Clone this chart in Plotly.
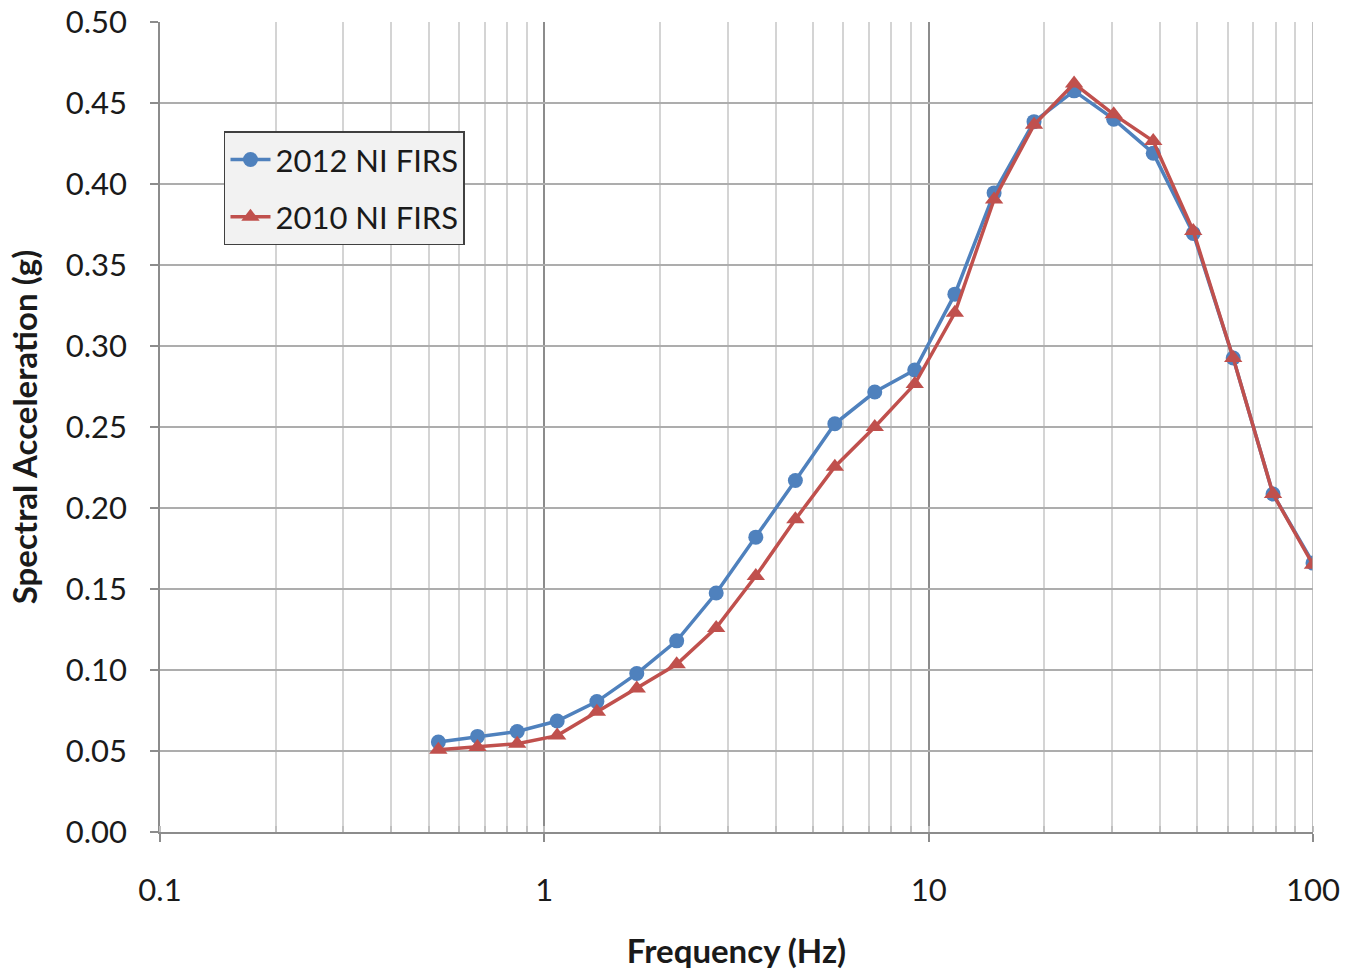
import plotly.graph_objects as go

freq = [0.53, 0.67, 0.85, 1.08, 1.37, 1.74, 2.21, 2.8, 3.55, 4.5, 5.7, 7.24,
        9.2, 11.7, 14.8, 18.8, 23.9, 30.3, 38.4, 48.8, 62, 78.7, 100]
sa_2012 = [0.0556, 0.0590, 0.0620, 0.0685, 0.0805, 0.0978, 0.118, 0.1475, 0.182,
           0.217, 0.252, 0.2716, 0.2852, 0.332, 0.3945, 0.4385, 0.4575, 0.440,
           0.419, 0.3695, 0.2926, 0.2086, 0.166]
sa_2010 = [0.0508, 0.0525, 0.0545, 0.0595, 0.0742, 0.0886, 0.1035, 0.126, 0.158,
           0.193, 0.2255, 0.250, 0.2765, 0.3205, 0.3905, 0.4365, 0.4620, 0.443,
           0.4265, 0.371, 0.2926, 0.2086, 0.165]
names = ["2012 NI FIRS", "2010 NI FIRS"]
x_ticks = [0.1, 1, 10, 100]
x_ticktext = ["0.1", "1", "10", "100"]

FONT = "Lato"
BLUE = "#4f81bd"
RED = "#c0504d"

fig = go.Figure()
fig.add_trace(go.Scatter(
    x=freq, y=sa_2012, mode="lines+markers", name=names[0], legendgroup="a",
    line=dict(color=BLUE, width=3.5),
    marker=dict(symbol="circle", size=15, color=BLUE),
))
fig.add_trace(go.Scatter(
    x=freq, y=sa_2010, mode="lines+markers", name=names[1], legendgroup="b",
    line=dict(color=RED, width=3.5),
    marker=dict(symbol="triangle-up", size=16, color=RED),
))

fig.update_layout(
    width=1345, height=970,
    margin=dict(l=160, r=32, t=22, b=138),
    paper_bgcolor="white", plot_bgcolor="white",
    font=dict(family=FONT, size=31, color="#1a1a1a"),
    showlegend=True,
    legend=dict(
        x=0.0555, y=0.865, xanchor="left", yanchor="top",
        bgcolor="#f2f2f2", bordercolor="#404040", borderwidth=1.5,
        font=dict(family=FONT, size=31, color="#1a1a1a"),
        traceorder="grouped", tracegroupgap=14, itemwidth=40,
    ),
    xaxis=dict(
        type="log", range=[-1, 2], automargin=False,
        tickmode="array", tickvals=x_ticks, ticktext=x_ticktext,
        showgrid=True, gridcolor="#8c8c8c", gridwidth=1.5,
        showline=True, linecolor="#8c8c8c", linewidth=1.5,
        ticks="outside", ticklen=8, tickcolor="#8c8c8c", tickwidth=1.5,
        ticklabelstandoff=22,
        minor=dict(dtick="D1", showgrid=True, gridcolor="#d4d4d4", gridwidth=1.5,
                   ticks="inside", ticklen=6, tickcolor="#bfbfbf"),
        title=dict(text="<b>Frequency (Hz)</b>", font=dict(family=FONT, size=33), standoff=36),
        zeroline=False, mirror=False,
    ),
    yaxis=dict(
        range=[0, 0.5], dtick=0.05, tickformat=".2f", automargin=False,
        showgrid=True, gridcolor="#adadad", gridwidth=1.5,
        showline=True, linecolor="#8c8c8c", linewidth=1.5,
        ticks="outside", ticklen=8, tickcolor="#8c8c8c", tickwidth=1.5,
        ticklabelstandoff=17,
        title=dict(text="<b>Spectral Acceleration (g)</b>", font=dict(family=FONT, size=33), standoff=18),
        zeroline=False,
    ),
)
fig.add_shape(type="line", xref="x", yref="paper", x0=100, x1=100, y0=0, y1=1,
              line=dict(color="#adadad", width=1.5))

fig.write_html("out.html")
